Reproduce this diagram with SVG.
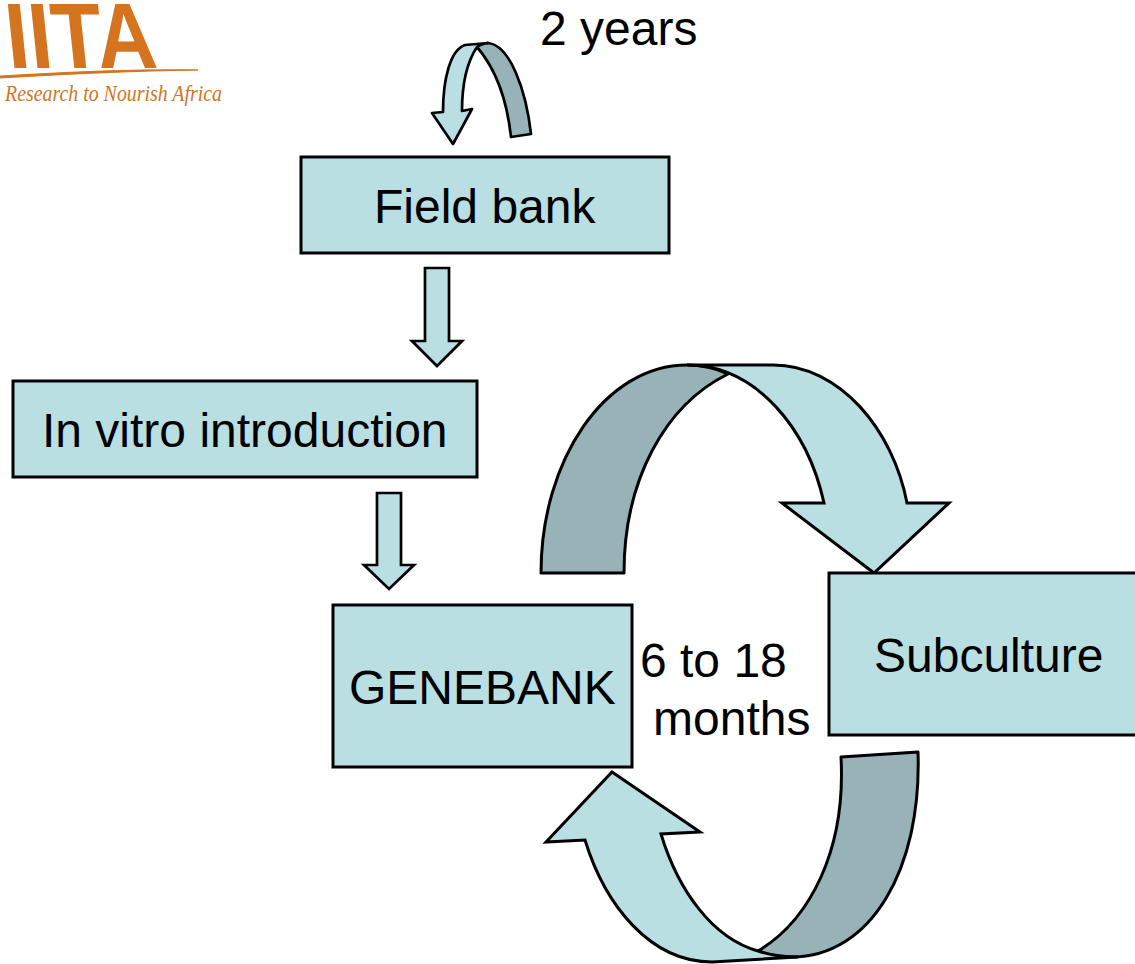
<svg xmlns="http://www.w3.org/2000/svg" width="1135" height="964" viewBox="0 0 1135 964">
<style>
.box{fill:#b9dfe3;stroke:#000;stroke-width:3;stroke-linejoin:miter}
.dark{fill:#97b3b8;stroke:#000;stroke-width:3;stroke-linejoin:round}
.thin{stroke-width:2.7}
.t{font-family:"Liberation Sans",Arial,sans-serif;font-size:48px;fill:#000}
</style>
<rect width="1135" height="964" fill="#fff"/>
<g id="logo">
<text transform="translate(9,68) skewX(6)" x="0" y="0" font-family="'Liberation Sans',sans-serif" font-weight="bold" font-size="93" fill="#d4741f" textLength="150" lengthAdjust="spacingAndGlyphs">IITA</text>
<path d="M0,76 C70,72 130,69 198,70 C130,71 70,74 0,78Z" fill="#d4741f" stroke="#d4741f" stroke-width="1"/>
<text x="5" y="101" font-family="'Liberation Serif',serif" font-style="italic" font-size="23" fill="#d4741f" textLength="217" lengthAdjust="spacingAndGlyphs">Research to Nourish Africa</text>
</g>
<g id="connectors">
<g id="loop-top">
<path class="dark thin" d="M511,137 L531,134 C526,90 510,45 488,43 C484,43 480,45 477,47 C495,68 507,100 511,137Z"/>
<path class="box thin" style="stroke-linejoin:round" d="M488,43 L465,45 C450,50 443,80 443,112 L432,113 L453,144 L472,109 L462,111 C462,85 467,62 477,47 C480,45 484,43 488,43Z"/>
</g>
<polygon id="arrow-field-vitro" class="box thin" points="425,268 449,268 449,341 462,341 437,366 412,341 425,341"/>
<polygon id="arrow-vitro-genebank" class="box thin" points="377,493 401,493 401,565 414,565 389,589 364,565 377,565"/>
<g id="loop-right">
<path class="dark" d="M541,573 C541,460 605,365 687,365 C702,365 716,368 728,374 C665,405 624,480 624,573Z"/>
<path class="box" d="M687,365 L773,365 C840,365 893,430 907,503 L949,503 L874,573 L782,503 L824,503 C808,430 757,365 687,365Z"/>
</g>
<g id="loop-bottom">
<path class="dark" d="M841,757 L918,752 C922,870 870,957 792,957 C780,957 768,955 758,951 C810,920 846,850 841,757Z"/>
<path class="box" d="M612,772 L700,832 L661,834 C678,890 712,938 758,951 C770,955 785,957 798,957 L712,962 C650,962 605,905 585,840 L546,842Z"/>
</g>
</g>
<g id="field-bank"><rect class="box" x="301" y="157" width="368" height="96"/><text class="t" x="374" y="223">Field bank</text></g>
<g id="in-vitro"><rect class="box" x="13" y="381" width="464" height="96"/><text class="t" x="42" y="447">In vitro introduction</text></g>
<g id="genebank"><rect class="box" x="333" y="605" width="299" height="162"/><text class="t" x="349" y="704">GENEBANK</text></g>
<g id="subculture"><rect class="box" x="829" y="573" width="320" height="162"/><text class="t" x="874" y="672">Subculture</text></g>
<g id="labels">
<text class="t" x="540" y="45">2 years</text>
<text class="t" x="640" y="677">6 to 18</text>
<text class="t" x="653" y="735">months</text>
</g>
</svg>
